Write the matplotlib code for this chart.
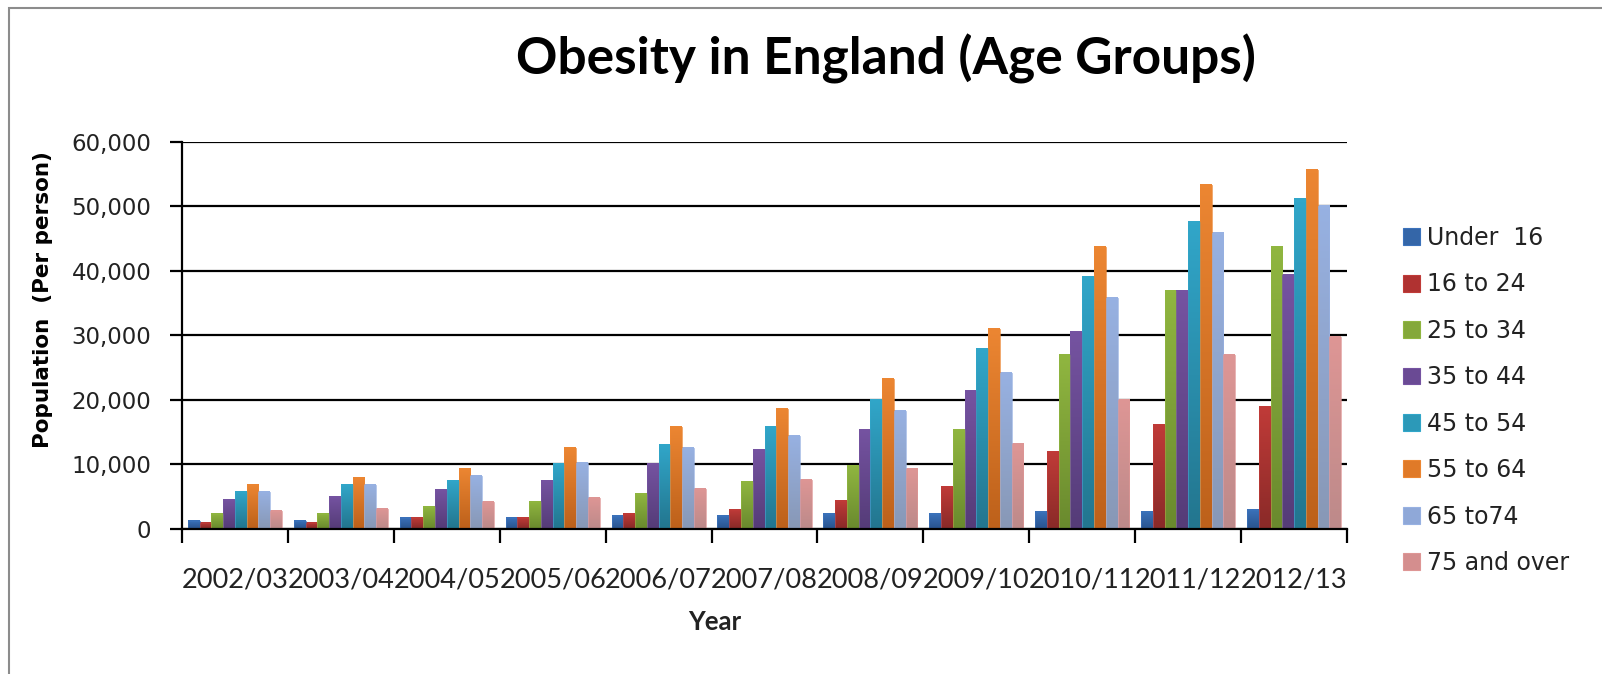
import numpy as np
import matplotlib
matplotlib.use('Agg')
import matplotlib.pyplot as plt
import matplotlib.patches as mpatches
from matplotlib.colors import LinearSegmentedColormap
from matplotlib.ticker import StrMethodFormatter, FixedLocator

years = ['2002/03', '2003/04', '2004/05', '2005/06', '2006/07', '2007/08',
         '2008/09', '2009/10', '2010/11', '2011/12', '2012/13']
groups = ['Under  16', '16 to 24', '25 to 34', '35 to 44', '45 to 54',
          '55 to 64', '65 to74', '75 and over']

under16 = [1200, 1200, 1600, 1600, 1900, 1900, 2200, 2200, 2500, 2500, 2900]
age16_24 = [850, 850, 1600, 1600, 2200, 2900, 4300, 6400, 11800, 16000, 18900]
age25_34 = [2300, 2300, 3400, 4100, 5400, 7200, 9700, 15300, 27000, 36900, 43700]
age35_44 = [4500, 4900, 5900, 7400, 10000, 12200, 15300, 21400, 30500, 36900, 39400]
age45_54 = [5600, 6700, 7400, 10000, 12900, 15700, 20000, 27800, 39000, 47600, 51200]
age55_64 = [6700, 7800, 9200, 12500, 15700, 18600, 23200, 30900, 43700, 53300, 55700]
age65_74 = [5600, 6700, 8100, 10100, 12500, 14300, 18200, 24100, 35800, 45800, 50000]
age75 = [2700, 3100, 4100, 4800, 6100, 7500, 9300, 13100, 19900, 27000, 29800]

series = [under16, age16_24, age25_34, age35_44, age45_54, age55_64, age65_74, age75]

# (top, bottom) colours of the bar gradients, plus the flat legend colour
shades = [
    ('#3b72bb', '#2a5590', '#3466a8'),
    ('#c03b38', '#8a2a28', '#b03231'),
    ('#90b640', '#6a8a2e', '#84a83a'),
    ('#7553a1', '#553c78', '#6a4a94'),
    ('#31a6c9', '#23768f', '#2c99b8'),
    ('#ec8632', '#bd611b', '#e07a28'),
    ('#97b1e2', '#8898b6', '#8fa8d8'),
    ('#de9695', '#bd8a8a', '#d48e8e'),
]

W, H = 1602, 674
fig = plt.figure(figsize=(W / 100, H / 100), dpi=100)
ax = fig.add_axes([182 / W, 1 - 528.5 / H, (1347 - 182) / W, (528.5 - 142) / H])

n = len(series)
bw = 1 / (n + 1)
x = np.arange(len(years))
grad = np.linspace(0, 1, 64).reshape(-1, 1)

for i, (vals, (top, bot, flat)) in enumerate(zip(series, shades)):
    cmap = LinearSegmentedColormap.from_list('g%d' % i, [bot, top])
    xs = x + (i - (n - 1) / 2) * bw
    for xc, v in zip(xs, vals):
        ax.imshow(grad, extent=[xc - bw / 2, xc + bw / 2, 0, v], origin='lower',
                  cmap=cmap, aspect='auto', zorder=3, interpolation='bilinear')
    ax.bar(xs, vals, width=bw, facecolor='none', edgecolor=top, linewidth=0.5,
           zorder=4)

ax.set_xlim(-0.5, len(years) - 0.5)
ax.set_ylim(0, 60000)

ax.set_yticks(np.arange(0, 60001, 10000))
ax.yaxis.set_major_formatter(StrMethodFormatter('{x:,.0f}'))
ax.yaxis.grid(True, color='black', linewidth=1.6, zorder=1)
ax.set_axisbelow(True)

ax.set_xticks(x)
ax.set_xticklabels(years, family='Lato', fontsize=19.5, color='#222222')
ax.xaxis.set_minor_locator(FixedLocator(np.arange(-0.5, len(years), 1)))
ax.tick_params(axis='x', which='major', length=0, pad=28)
ax.tick_params(axis='x', which='minor', length=10, width=1.6, direction='out')
ax.tick_params(axis='y', length=9, width=1.6, direction='out', pad=13,
               labelsize=16.5, labelcolor='#222222')

for s in ['top', 'right']:
    ax.spines[s].set_visible(False)
for s in ['left', 'bottom']:
    ax.spines[s].set_linewidth(1.6)
    ax.spines[s].set_zorder(5)

fig.text(886 / W, 1 - 59 / H, 'Obesity in England (Age Groups)', family='Lato',
         fontweight='bold', fontsize=37, ha='center', va='center')
fig.text(43 / W, 1 - 300 / H, 'Population  (Per person)', fontweight='bold',
         fontsize=15.5, rotation=90, ha='center', va='center')
fig.text(715 / W, 1 - 622 / H, 'Year', family='Lato', fontweight='bold',
         fontsize=18.5, ha='center', va='center', color='#222222')

handles = [mpatches.Patch(facecolor=s[2], edgecolor=s[0], linewidth=0.8, label=g)
           for g, s in zip(groups, shades)]
fig.legend(handles=handles, loc='upper left', bbox_to_anchor=(1403 / W, 1 - 226 / H),
           frameon=False, fontsize=17, handlelength=0.72, handleheight=0.72,
           handletextpad=0.3, labelspacing=0.95, borderpad=0, borderaxespad=0,
           labelcolor='#222222')

# outer chart frame (left and top edges)
fig.add_artist(mpatches.Rectangle((8.5 / W, -0.1), 1.2, 1 - 8.5 / H + 0.1,
                                  transform=fig.transFigure, fill=False,
                                  edgecolor='#8c8c8c', linewidth=1.5))

fig.savefig('out.png', dpi=100)
